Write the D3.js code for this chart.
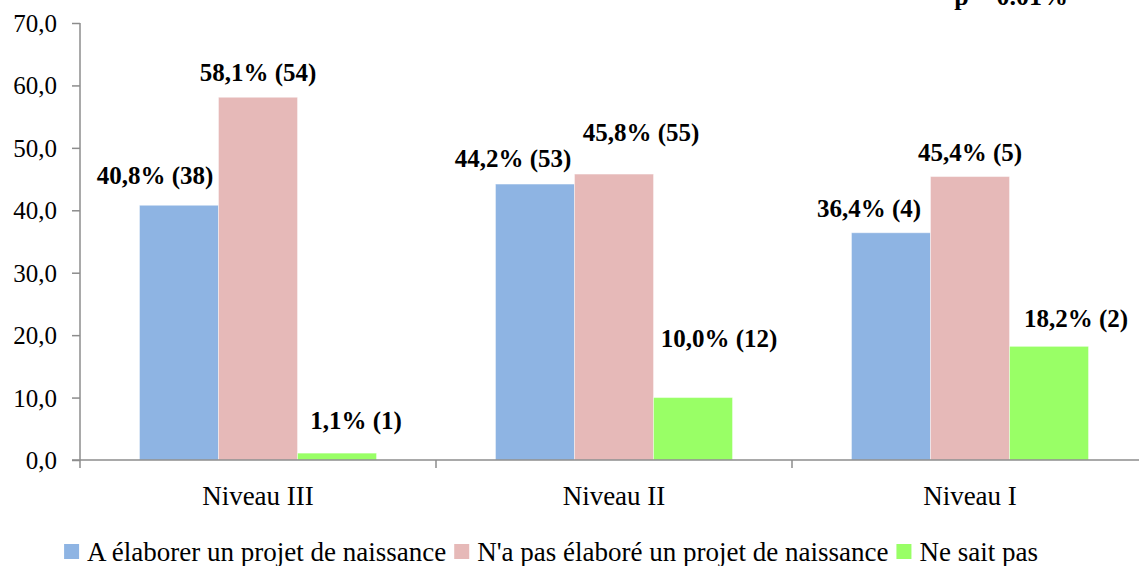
<!DOCTYPE html>
<html>
<head>
<meta charset="utf-8">
<script src="https://cdn.jsdelivr.net/npm/d3@7"></script>
<style>
  body { margin: 0; background: #fff; }
  svg text { font-family: "Liberation Serif", "Tinos", "Times New Roman", "DejaVu Serif", serif; }
</style>
</head>
<body>
<svg id="chart" width="1139" height="566"></svg>
<script>
// categories and series
var niveaux = ["Niveau III", "Niveau II", "Niveau I"];
var series = ["A élaborer un projet de naissance", "N'a pas élaboré un projet de naissance", "Ne sait pas"];
// pourcentages par niveau (ordre des series)
var pctElabore    = [40.8, 44.2, 36.4];
var pctNonElabore = [58.1, 45.8, 45.4];
var pctNeSaitPas  = [1.1, 10.0, 18.2];
// effectifs
var nElabore    = [38, 53, 4];
var nNonElabore = [54, 55, 5];
var nNeSaitPas  = [1, 12, 2];
var yTicks = [0, 10, 20, 30, 40, 50, 60, 70];
var pText = "p = 0.01%";

var colors = ["#8EB4E3", "#E6B9B8", "#99FF66"];

// decalage manuel des etiquettes (comme dans le graphique d'origine) [dx, dy]
var labelShift = [
  [[-24, -5], [0, 0], [19, -8]],
  [[-22, -1], [27, -17], [26, -35]],
  [[-22, 0], [0, 0], [27, -3]]
];

var svg = d3.select("#chart");
var margin = {left: 80, top: 23, bottom: 460, right: 1148};

var x0 = d3.scaleBand().domain(niveaux).range([margin.left, margin.right]).paddingInner(0).paddingOuter(0);
var x1 = d3.scaleBand().domain(d3.range(series.length)).range([0, x0.bandwidth()]).paddingInner(0).paddingOuter(0.753);
var y = d3.scaleLinear().domain([0, 70]).range([margin.bottom, margin.top]);

var pcts = [pctElabore, pctNonElabore, pctNeSaitPas];
var counts = [nElabore, nNonElabore, nNeSaitPas];

var rows = [];
niveaux.forEach(function(niv, i) {
  for (var s = 0; s < series.length; s++) {
    rows.push({niv: niv, i: i, s: s, v: pcts[s][i], n: counts[s][i]});
  }
});

var fmt = function(v) { return d3.format(".1f")(v).replace(".", ","); };

// bars
svg.append("g").selectAll("rect").data(rows).enter().append("rect")
  .attr("x", function(d) { return x0(d.niv) + x1(d.s); })
  .attr("y", function(d) { return y(d.v); })
  .attr("width", x1.bandwidth())
  .attr("height", function(d) { return y(0) - y(d.v); })
  .attr("fill", function(d) { return colors[d.s]; })
  .attr("stroke", "#fff").attr("stroke-opacity", 0.4).attr("stroke-width", 1);

// y axis
var yAxis = svg.append("g").attr("transform", "translate(" + margin.left + ",0)")
  .call(d3.axisLeft(y).tickValues(yTicks).tickSize(8).tickPadding(15).tickFormat(fmt));
yAxis.select(".domain").attr("stroke", "#8c8c8c").attr("stroke-width", 1.5).attr("d", "M0," + y(70) + "V" + y(0));
yAxis.selectAll(".tick line").attr("stroke", "#8c8c8c").attr("stroke-width", 1.5);
yAxis.selectAll(".tick text").attr("font-size", 25).attr("fill", "#000").attr("dy", "0.34em");

// x axis
var xAxis = svg.append("g").attr("transform", "translate(0," + y(0) + ")");
xAxis.append("line").attr("x1", 72).attr("x2", 1139).attr("stroke", "#8c8c8c").attr("stroke-width", 1.5);
xAxis.selectAll("line.tk").data(niveaux).enter().append("line").attr("class", "tk")
  .attr("x1", function(d) { return x0(d); }).attr("x2", function(d) { return x0(d); })
  .attr("y1", 0).attr("y2", 8).attr("stroke", "#8c8c8c").attr("stroke-width", 1.5);
xAxis.selectAll("text").data(niveaux).enter().append("text")
  .attr("x", function(d) { return x0(d) + x0.bandwidth() / 2; })
  .attr("y", 45)
  .attr("text-anchor", "middle").attr("font-size", 27)
  .text(function(d) { return d; });

// data labels
svg.append("g").selectAll("text").data(rows).enter().append("text")
  .attr("x", function(d) { return x0(d.niv) + x1(d.s) + x1.bandwidth() / 2 + labelShift[d.i][d.s][0]; })
  .attr("y", function(d) { return y(d.v) - 16 + labelShift[d.i][d.s][1]; })
  .attr("text-anchor", "middle").attr("font-weight", "bold").attr("font-size", 25)
  .text(function(d) { return fmt(d.v) + "% (" + d.n + ")"; });

// p value (cut at the top in the original)
svg.append("text").attr("x", 1068).attr("y", 5).attr("text-anchor", "end")
  .attr("font-weight", "bold").attr("font-size", 26).text(pText);

// legend
var leg = svg.append("g");
var items = leg.selectAll("g").data(series).enter().append("g");
items.append("rect").attr("width", 15).attr("height", 15).attr("y", -17)
  .attr("fill", function(d, i) { return colors[i]; });
items.append("text").attr("x", 23).attr("font-size", 27).text(function(d) { return d; });
var xpos = 0, widths = [];
items.each(function() { widths.push(this.getBBox().width); });
items.attr("transform", function(d, i) {
  var t = "translate(" + xpos + ",0)";
  xpos += widths[i] + 8;
  return t;
});
var total = xpos - 8;
leg.attr("transform", "translate(" + (551 - total / 2) + ",561)");
</script>
</body>
</html>
